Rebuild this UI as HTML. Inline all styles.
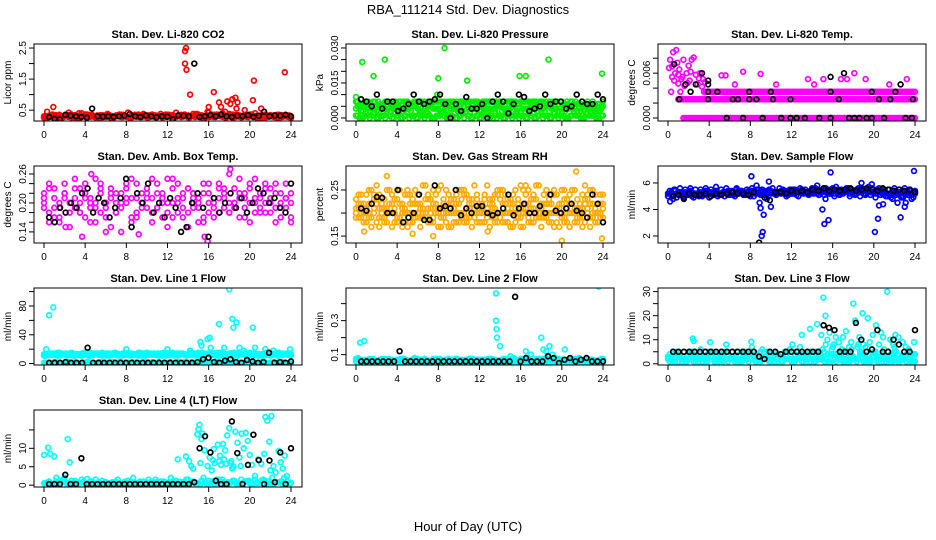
<!DOCTYPE html>
<html><head><meta charset="utf-8">
<style>
html,body{margin:0;padding:0;background:#fff;}
svg{display:block;font-family:"Liberation Sans",Arial,sans-serif;}
</style></head>
<body>
<svg id="chart" width="936" height="540" viewBox="0 0 936 540" xmlns="http://www.w3.org/2000/svg">
<text x="468" y="14" text-anchor="middle" font-size="13">RBA_111214  Std. Dev. Diagnostics</text>
<text x="468" y="531" text-anchor="middle" font-size="13">Hour of Day (UTC)</text>
</svg>
<script>
const xTicks = [0,4,8,12,16,20,24];
// Panel 1: CO2
const co2BaseA = [0.3,0.32,0.28,0.35,0.3,0.33,0.27,0.31,0.36,0.29,0.3,0.34,0.28,0.32,0.3,0.35,0.29,0.31,0.33,0.28,0.3,0.36,0.3,0.27,0.32,0.34,0.3,0.29,0.33,0.31,0.36,0.3,0.28,0.35,0.32,0.3,0.38,0.33,0.29,0.35,0.31,0.4,0.3,0.36,0.32,0.29,0.34,0.3,0.27];
const co2BaseB = [0.26,0.29,0.33,0.25,0.3,0.28,0.34,0.26,0.3,0.32,0.27,0.29,0.31,0.25,0.33,0.28,0.3,0.26,0.29,0.34,0.27,0.3,0.32,0.26,0.35,0.28,0.3,0.33,0.27,0.38,0.29,0.31,0.42,0.28,0.32,0.3,0.35,0.27,0.33,0.3,0.36,0.29,0.31,0.27,0.34,0.3,0.28,0.32,0.25];
const co2Out = [[0.3,0.45],[0.9,0.6],[13.7,2.4],[13.8,2.5],[13.7,2.0],[13.85,1.8],[14.2,1.0],[16.0,0.6],[16.5,1.08],[17,0.75],[17.2,0.6],[17.8,0.78],[18.1,0.7],[18.3,0.85],[18.6,0.9],[18.8,0.75],[18.7,0.55],[19.5,0.5],[20.3,0.82],[20.4,1.45],[21.1,0.55],[23.4,1.72],[2.4,0.42],[3.4,0.4],[15.9,0.45],[17.6,0.45]];
const co2Black = [0.28,0.22,0.2,0.35,0.32,0.3,0.28,0.26,0.55,0.3,0.29,0.3,0.28,0.3,0.32,0.38,0.3,0.28,0.33,0.3,0.27,0.3,0.29,0.2,0.33,0.32,0.3,2.0,0.28,0.3,0.34,0.3,0.36,0.3,0.28,0.32,0.3,0.34,0.28,0.32,0.45,0.3,0.33,0.32,0.35,0.3];
// Panel 2: Pressure
const prA = [0.001,0.0,0.002,0.001,0.0,0.001,0.002,0.0,0.001,0.0,0.002,0.001,0.0,0.001,0.002,0.0,0.001,0.001,0.0,0.002,0.001,0.0,0.001,0.002,0.0,0.001,0.0,0.002,0.001,0.0,0.001,0.002,0.001,0.0,0.001,0.0,0.002,0.001,0.0,0.001,0.002,0.0,0.001,0.001,0.0,0.002,0.001,0.0,0.001];
const prB = [0.004,0.003,0.005,0.004,0.003,0.004,0.003,0.004,0.005,0.003,0.004,0.005,0.004,0.003,0.005,0.004,0.004,0.003,0.005,0.004,0.003,0.005,0.004,0.004,0.003,0.005,0.004,0.003,0.005,0.004,0.004,0.005,0.003,0.004,0.005,0.004,0.003,0.005,0.004,0.004,0.003,0.005,0.004,0.003,0.005,0.004,0.004,0.003,0.005];
const prC = [0.007,0.006,0.006,0.005,0.005,0.005,0.006,0.005,0.006,0.006,0.007,0.006,0.007,0.006,0.007,0.007,0.007,0.006,0.007,0.007,0.006,0.007,0.007,0.007,0.006,0.007,0.007,0.007,0.007,0.006,0.007,0.007,0.007,0.007,0.006,0.007,0.007,0.007,0.006,0.007,0.007,0.007,0.007,0.006,0.007,0.007,0.007,0.006,0.007];
const prOut = [[0,0.009],[0.1,0.007],[0.6,0.024],[1.7,0.018],[2.8,0.025],[8.6,0.030],[8.0,0.017],[10.8,0.016],[15.9,0.018],[16.5,0.018],[18.7,0.025],[23.9,0.019],[7.9,0.01]];
const prBlack = [0.008,0.007,0.005,0.01,0.004,0.007,0.007,0.003,0.004,0.006,0.01,0.007,0.006,0.007,0.008,0.01,0.006,0.0,0.006,0.003,0.009,0.004,0.004,0.006,0.0,0.007,0.01,0.007,0.002,0.006,0.01,0.009,0.003,0.004,0.005,0.01,0.006,0.007,0.007,0.004,0.005,0.01,0.007,0.006,0.006,0.01,0.008];
// Panel 3: Temp
const tpLow = [0,0,0,0,0,0,0,0,0,0,0,0,0,0,0,0,0,0,0,0,0,0,0,0,0,0,0,0,0,0,0,0,0,0,0,0,0,0,0,0,0,0,0,0,0];
const tpMid = [0.0025,0.0025,0.0025,0.0025,0.0025,0.0025,0.0025,0.0025,0.0025,0.0025,0.0025,0.0025,0.0025,0.0025,0.0025,0.0025,0.0025,0.0025,0.0025,0.0025,0.0025,0.0025,0.0025,0.0025,0.0025,0.0025,0.0025,0.0025,0.0025,0.0025,0.0025,0.0025,0.0025,0.0025,0.0025,0.0025,0.0025,0.0025,0.0025,0.0025,0.0025,0.0025,0.0025,0.0025,0.0025,0.0025,0.0025,0.0025];
const tpHigh = [0.0035,0.0035,0.0035,0.0035,0.0035,0.0035,0.0035,0.0035,0.0035,0.0035,0.0035,0.0035,0.0035,0.0035,0.0035,0.0035,0.0035,0.0035,0.0035,0.0035,0.0035,0.0035,0.0035,0.0035,0.0035,0.0035,0.0035,0.0035,0.0035,0.0035,0.0035,0.0035,0.0035,0.0035,0.0035,0.0035,0.0035,0.0035,0.0035,0.0035,0.0035];
const tpOut = [[0.1,0.0067],[0.2,0.0078],[0.4,0.0055],[0.5,0.0088],[0.7,0.006],[0.8,0.0091],[0.9,0.0074],[1.0,0.0046],[1.1,0.0065],[1.3,0.0052],[1.5,0.0078],[1.6,0.0043],[1.8,0.006],[2.0,0.007],[2.1,0.005],[2.3,0.0078],[2.5,0.0081],[2.7,0.0058],[2.9,0.0045],[3.1,0.006],[3.4,0.0052],[3.6,0.0048],[0.3,0.0035],[1.2,0.0035],[5.2,0.0057],[5.6,0.0057],[6.5,0.0045],[7.3,0.0062],[9.0,0.0059],[10.5,0.0045],[13.6,0.0052],[14.2,0.0045],[15.1,0.0052],[17.4,0.0052],[18.1,0.006],[19.2,0.0052],[23.2,0.0052],[21.5,0.0045],[16.8,0.0052],[0.6,0.005],[1.4,0.0055],[2.2,0.0062],[3.0,0.0053],[3.3,0.0042],[1.9,0.0047],[1.0,0.0058],[0.4,0.0069]];
const tpBlack = [[0.6,0.0072],[1.1,0.0025],[1.7,0.0045],[2.2,0.0035],[2.7,0.0045],[3.3,0.006],[3.9,0.0045],[3.9,0.005],[3.9,0.0035],[3.9,0.0025],[4.8,0.0035],[5.7,0.0],[6.3,0.0025],[6.8,0.0025],[7.3,0.0],[7.9,0.0035],[7.9,0.0025],[8.6,0.0025],[9.2,0.0],[10.2,0.0025],[10.0,0.0035],[11.0,0.0],[11.9,0.0025],[11.9,0.0],[12.5,0.0],[13.3,0.0],[14.7,0.0],[15.8,0.0055],[15.8,0.0035],[15.8,0.0],[16.6,0.0025],[17.1,0.006],[17.6,0.0],[18.1,0.0],[18.6,0.0],[19.3,0.0],[19.8,0.0035],[19.8,0.0],[20.5,0.0025],[21.0,0.0],[21.6,0.0025],[22.1,0.0035],[22.6,0.0045],[23.1,0.0],[23.7,0.0],[23.8,0.0025]];
// Panel 4: Amb box temp
const amA = [0.22,0.18,0.21,0.16,0.24,0.2,0.19,0.23,0.17,0.21,0.25,0.18,0.2,0.15,0.22,0.19,0.24,0.17,0.21,0.2,0.23,0.16,0.19,0.22,0.18,0.25,0.2,0.17,0.23,0.19,0.21,0.16,0.24,0.2,0.18,0.22,0.26,0.19,0.21,0.17,0.23,0.2,0.18,0.24,0.21,0.16,0.22,0.19,0.2];
const amB = [0.19,0.23,0.17,0.2,0.22,0.15,0.21,0.18,0.24,0.2,0.19,0.22,0.17,0.23,0.2,0.14,0.21,0.25,0.18,0.22,0.19,0.21,0.24,0.17,0.2,0.23,0.18,0.21,0.15,0.22,0.19,0.24,0.2,0.17,0.23,0.21,0.18,0.2,0.25,0.22,0.16,0.21,0.19,0.23,0.18,0.22,0.2,0.24,0.17];
const amC = [0.2,0.16,0.23,0.19,0.21,0.18,0.25,0.2,0.22,0.16,0.2,0.23,0.19,0.21,0.18,0.22,0.2,0.16,0.24,0.19,0.21,0.18,0.22,0.2,0.25,0.17,0.21,0.19,0.23,0.2,0.16,0.22,0.18,0.21,0.24,0.19,0.2,0.23,0.17,0.21,0.2,0.25,0.22,0.18,0.2,0.24,0.19,0.21,0.16];
const amD = [0.21,0.24,0.19,0.17,0.22,0.2,0.23,0.18,0.21,0.19,0.16,0.24,0.2,0.22,0.18,0.2,0.23,0.21,0.17,0.2,0.22,0.25,0.19,0.21,0.15,0.2,0.24,0.22,0.18,0.21,0.2,0.17,0.22,0.19,0.21,0.23,0.18,0.2,0.22,0.19,0.24,0.18,0.21,0.2,0.23,0.19,0.17,0.21,0.22];
const amOut = [[3.7,0.13],[4.6,0.26],[9.2,0.135],[15.6,0.13],[18.1,0.27],[15.9,0.12],[2.1,0.15],[6.0,0.14]];
const amBlack = [0.17,0.16,0.19,0.18,0.2,0.19,0.22,0.23,0.18,0.21,0.2,0.17,0.19,0.21,0.25,0.15,0.22,0.2,0.24,0.18,0.2,0.17,0.21,0.19,0.14,0.15,0.2,0.22,0.19,0.13,0.21,0.18,0.2,0.22,0.19,0.21,0.18,0.2,0.23,0.22,0.2,0.21,0.19,0.18,0.24];
// Panel 5: RH
const rhA = [0.2,0.24,0.18,0.22,0.26,0.19,0.21,0.17,0.23,0.2,0.25,0.18,0.22,0.2,0.24,0.19,0.21,0.23,0.17,0.2,0.22,0.25,0.19,0.21,0.18,0.23,0.2,0.24,0.19,0.22,0.17,0.21,0.26,0.2,0.18,0.23,0.21,0.19,0.24,0.2,0.22,0.18,0.25,0.21,0.19,0.23,0.2,0.22,0.24];
const rhB = [0.23,0.19,0.21,0.25,0.18,0.22,0.2,0.24,0.19,0.21,0.17,0.23,0.2,0.26,0.18,0.22,0.2,0.19,0.24,0.21,0.18,0.2,0.23,0.26,0.2,0.18,0.22,0.19,0.25,0.2,0.23,0.18,0.21,0.24,0.2,0.19,0.22,0.25,0.18,0.21,0.19,0.23,0.2,0.18,0.24,0.21,0.19,0.2,0.22];
const rhC = [0.21,0.2,0.24,0.19,0.22,0.2,0.18,0.22,0.25,0.17,0.2,0.22,0.24,0.19,0.21,0.25,0.17,0.22,0.2,0.23,0.25,0.18,0.21,0.2,0.22,0.24,0.17,0.21,0.23,0.18,0.2,0.25,0.19,0.22,0.21,0.26,0.17,0.2,0.22,0.24,0.19,0.21,0.2,0.23,0.17,0.2,0.25,0.18,0.21];
const rhD = [0.19,0.22,0.2,0.17,0.23,0.21,0.25,0.2,0.18,0.22,0.24,0.2,0.19,0.21,0.23,0.18,0.25,0.2,0.22,0.18,0.2,0.24,0.22,0.19,0.21,0.2,0.23,0.18,0.2,0.24,0.22,0.2,0.17,0.21,0.23,0.2,0.19,0.22,0.2,0.18,0.25,0.2,0.22,0.19,0.21,0.24,0.22,0.2,0.19];
const rhOut = [[0.8,0.16],[3.0,0.28],[5.5,0.155],[7.5,0.15],[12.8,0.16],[20,0.14],[21.4,0.29],[23.9,0.145],[16.5,0.26]];
const rhBlack = [0.21,0.205,0.22,0.235,0.233,0.2,0.2,0.25,0.18,0.19,0.2,0.24,0.185,0.185,0.26,0.21,0.215,0.21,0.25,0.195,0.21,0.2,0.215,0.215,0.2,0.195,0.2,0.21,0.24,0.195,0.21,0.22,0.2,0.2,0.215,0.2,0.24,0.205,0.2,0.21,0.22,0.205,0.2,0.19,0.24,0.22,0.18];
// Panel 6: Sample flow
const sfA = [5.0,5.1,5.2,4.9,5.1,5.2,5.0,5.1,5.2,5.1,5.2,5.0,5.1,5.2,5.3,5.1,5.2,5.2,5.1,5.3,5.2,5.3,5.2,5.3,5.2,5.4,5.3,5.2,5.3,5.4,5.3,5.5,5.4,5.3,5.4,5.5,5.4,5.3,5.5,5.4,5.5,5.4,5.3,5.5,5.4,5.5,5.3,5.4,5.4];
const sfB = [5.2,4.8,5.3,5.0,5.3,4.9,5.2,5.3,4.9,5.3,5.1,5.3,5.2,5.0,5.4,5.2,5.0,5.3,5.4,5.1,5.4,5.1,5.4,5.0,5.5,5.1,5.5,5.3,5.6,5.2,5.5,5.2,5.6,5.5,5.2,5.6,5.3,5.6,5.2,5.7,5.3,5.6,5.5,5.2,5.6,5.3,5.6,5.5,5.2];
const sfOut = [[0.2,4.6],[0.6,5.5],[8.1,6.5],[8.6,5.8],[8.9,4.5],[9.0,4.1],[9.3,3.6],[9.2,2.3],[9.1,2.0],[9.6,4.8],[9.8,6.1],[10,4.2],[15.0,4.0],[15.2,2.9],[15.6,3.2],[15.8,6.8],[19.8,5.9],[20.1,2.3],[20.4,3.3],[20.5,4.3],[20.9,4.4],[22.3,4.5],[22.6,3.4],[23,4.2],[23.1,4.5],[23.9,6.9],[15.3,4.8],[14.5,5.8],[18.8,6.0]];
const sfBlack = [5.0,5.1,4.8,5.2,5.1,5.1,5.2,5.0,5.2,5.1,5.2,5.3,5.2,5.2,5.1,5.3,1.5,4.9,4.7,5.3,5.3,5.2,5.4,5.3,5.4,5.3,5.5,5.4,5.6,5.4,5.5,5.4,5.5,5.6,5.4,5.5,5.6,5.5,5.4,5.6,5.5,5.4,5.5,5.4,5.5,5.3];
// Panel 7: Line 1 flow
const l1Band = [13,14,12,15,13,14,13,12,14,15,13,12,14,13,15,13,14,12,13,14,15,13,12,14,13,15,14,13,12,14,15,13,14,13,12,14,13,15,14,13,12,14,13,15,14,13,12,14,13];
const l1Band2 = [11,12,14,11,13,12,11,13,12,11,14,13,11,12,13,11,12,14,12,11,13,12,14,11,12,13,11,14,12,13,11,12,13,14,11,12,14,11,13,12,15,11,13,12,11,14,12,13,11];
const l1Zero = [1,0,2,1,0,1,2,0,1,1,0,2,1,0,1,2,1,0,1,1,0,2,1,0,1,1,2,0,1,1,0,2,1,0,1,2,1,0,1,0,2,1,0,1,1,0,2,1,0];
const l1Out = [[0.2,20],[0.5,67],[0.9,78],[8,20],[12,20],[15.2,30],[15.3,25],[15.9,34],[16.2,22],[17,55],[17.5,22],[18,103],[18.3,62],[18.4,50],[18.7,57],[19,22],[20.3,50],[20.5,22],[21.5,20],[23.9,20],[14.2,18],[16.1,36],[19.4,18],[22.3,18]];
const l1Black = [1,1,1,2,1,1,1,22,1,1,1,1,1,1,1,1,1,1,1,1,1,1,1,1,1,1,1,2,6,8,2,1,4,6,2,1,5,3,1,2,15,1,2,1,3];
// Panel 8: Line 2 flow
const l2Band = [0.06,0.07,0.05,0.06,0.065,0.055,0.06,0.07,0.05,0.06,0.065,0.06,0.055,0.07,0.06,0.05,0.06,0.065,0.06,0.055,0.07,0.06,0.05,0.065,0.06,0.07,0.055,0.06,0.065,0.05,0.06,0.07,0.06,0.055,0.065,0.06,0.05,0.07,0.06,0.065,0.055,0.06,0.07,0.05,0.06,0.065,0.06,0.055,0.07];
const l2Band2 = [0.075,0.05,0.065,0.07,0.05,0.075,0.055,0.05,0.07,0.075,0.05,0.07,0.075,0.05,0.055,0.075,0.07,0.05,0.075,0.07,0.05,0.055,0.075,0.05,0.07,0.05,0.075,0.07,0.05,0.075,0.07,0.05,0.075,0.07,0.05,0.075,0.07,0.08,0.05,0.075,0.07,0.05,0.075,0.07,0.05,0.075,0.07,0.05,0.075];
const l2Out = [[0.4,0.17],[0.2,0.08],[0.8,0.18],[13.6,0.46],[13.6,0.3],[13.65,0.25],[13.7,0.2],[14,0.15],[16.5,0.12],[17,0.1],[18,0.2],[18.2,0.13],[18.5,0.12],[18.8,0.15],[20.3,0.13],[21.7,0.08],[23.6,0.5],[15,0.09],[19.1,0.1]];
const l2Black = [0.06,0.06,0.06,0.06,0.06,0.06,0.06,0.12,0.06,0.06,0.06,0.06,0.06,0.06,0.06,0.06,0.06,0.06,0.06,0.06,0.06,0.06,0.06,0.06,0.06,0.06,0.06,0.06,0.44,0.06,0.08,0.06,0.06,0.06,0.09,0.08,0.05,0.07,0.08,0.06,0.07,0.08,0.06,0.06,0.06];
// Panel 9: Line 3 flow
const l3Band = [3,1,4,2,5,1,3,2,4,1,3,5,2,1,4,3,2,1,5,3,2,4,1,3,2,5,1,4,3,2,6,1,4,2,5,1,3,2,4,1,5,2,3,1,4,2,3,1,4];
const l3Band2 = [2,4,1,3,2,4,1,3,5,2,1,4,2,3,1,5,2,4,1,3,1,2,4,3,1,2,4,1,3,5,2,4,7,3,1,5,2,8,1,4,3,1,6,2,5,1,3,2,1];
const l3Out = [[2.4,10.5],[2.5,9.5],[4.1,9],[8.1,9.2],[12.1,8],[13,12],[13.8,14.5],[14.5,16.5],[15.1,27.5],[15.3,20],[15.5,10],[15.7,13],[16.1,8],[16.3,11],[16.6,9],[17,11],[17.3,13.5],[17.6,7],[18,25],[18.2,18],[18.6,11],[18.9,21],[19.4,19],[19.6,9],[19.9,12],[20.2,16],[20.5,8],[20.9,11],[21.3,30],[21.6,10],[22,7],[22.4,11],[22.8,9],[23.1,7],[23.9,9],[14.9,12],[16.9,6],[19.2,7],[21.9,8],[15.9,6],[17.8,9],[18.4,7],[20.7,13],[22.1,12],[23.4,6],[16.2,14],[19.0,8]];
const l3Black = [5,5,5,5,5,5,5,5,5,5,5,5,5,5,5,5,3,2,5,5,4,5,5,5,5,5,5,5,16,15,14,5,5,5,17,10,5,6,14,5,5,10,8,5,5,14];
// Panel 10: Line 4 flow
const l4Base = [0.5,1,0.3,0.8,2,0.4,1.2,0.6,0.3,1,1.5,0.5,0.8,0.3,1,0.4,0.6,0.8,0.3,0.5,0.7,0.4,0.9,0.5,0.6,1,0.4,0.8,1.5,1,0.6,2,1.2,0.4,1.5,0.8,0.5,1.2,0.4,1,0.6,1.5,0.8,1.2,0.5,0.7,1,0.4,0.6];
const l4Out = [[0,8.2],[0.4,10.2],[0.6,8.5],[1,7.8],[2.3,12.5],[2.5,6.2],[1.2,2],[4.2,1.7],[13,7],[13.8,7.8],[14.1,6.5],[14.3,5.2],[14.5,4.5],[14.9,13.8],[15,15.2],[15.1,16.4],[15.3,12.5],[15.4,14],[15.2,6],[15.6,9.5],[15.9,5.2],[16.1,7.5],[16.3,4],[16.5,9.8],[16.6,6],[16.9,11],[17.1,8],[17.2,5.5],[17.4,11.2],[17.6,9.5],[17.8,13.5],[18.0,15.5],[18.2,6.5],[18.4,5],[18.6,14.5],[18.8,11.5],[19.0,7.5],[19.2,14],[19.4,10],[19.6,14.2],[19.8,12],[20.2,5.5],[20.5,2.5],[20.8,7],[21.1,5.8],[21.4,8.5],[21.5,18.5],[21.7,17.5],[21.9,11.8],[22.1,18.8],[22.3,5.2],[22.5,3.5],[22.8,9.3],[23.0,6.2],[23.2,4.5],[23.4,8],[23.6,2.5],[16.8,1.5],[19.9,1.2],[21.3,1.5],[17.0,6.5],[17.5,7],[18.1,6],[18.3,4.5],[17.7,5.8],[16.4,6.8],[19.1,5.2],[20.0,8.2],[22.0,4]];
const l4Black = [0.3,0.3,0.3,2.8,0.3,0.3,7.3,0.3,0.3,0.3,0.3,0.3,0.3,0.3,0.3,0.3,0.3,0.3,0.3,0.3,0.3,0.3,0.3,0.3,0.3,0.3,0.3,0.8,10,13.3,8.9,1.2,0.3,0.3,17.3,8.7,0.3,5.5,13.7,6.8,0.3,6.7,0.8,8.9,0.3,10];

const NS = "http://www.w3.org/2000/svg";
const svg = document.getElementById('chart');
function mk(tag, attrs, parent){ const e=document.createElementNS(NS,tag); for(const k in attrs) e.setAttribute(k,attrs[k]); (parent||svg).appendChild(e); return e; }

const panels = [
 {title:"Stan. Dev. Li-820 CO2", yl:"Licor ppm", col:0,row:0, ymin:0.15,ymax:2.63, ticks:[0.5,1,1.5,2,2.5], labels:[0.5,1.5,2.5], fmt:1, color:"#ff0000", dense:3,
  base:[co2BaseA,co2BaseB], out:co2Out, black:co2Black},
 {title:"Stan. Dev. Li-820 Pressure", yl:"kPa", col:1,row:0, ymin:-0.0013,ymax:0.0317, ticks:[0,0.005,0.01,0.015,0.02,0.025,0.03], labels:[0,0.015,0.03], fmt:3, color:"#00ee00", dense:3,
  base:[prA,prB,prC], out:prOut, black:prBlack},
 {title:"Stan. Dev. Li-820 Temp.", yl:"degrees C", col:2,row:0, ymin:-0.0004,ymax:0.0099, ticks:[0,0.002,0.004,0.006,0.008], labels:[0,0.006], fmt:3, color:"#ff00ff", dense:3,
  base:[], spans:[[tpLow,1.5,24],[tpMid,1.0,24],[tpHigh,3.5,24]], out:tpOut, blackPairs:tpBlack},
 {title:"Stan. Dev. Amb. Box Temp.", yl:"degrees C", col:0,row:1, ymin:0.117,ymax:0.2765, ticks:[0.14,0.16,0.18,0.2,0.22,0.24,0.26], labels:[0.14,0.2,0.26], fmt:2, color:"#ff00ff", dense:1,
  base:[amA,amB,amC,amD], out:amOut, black:amBlack},
 {title:"Stan. Dev. Gas Stream RH", yl:"percent", col:1,row:1, ymin:0.135,ymax:0.302, ticks:[0.15,0.2,0.25], labels:[0.15,0.25], fmt:2, color:"#ffaa00", dense:2,
  base:[rhA,rhB,rhC,rhD], out:rhOut, black:rhBlack},
 {title:"Stan. Dev. Sample Flow", yl:"ml/min", col:2,row:1, ymin:1.47,ymax:7.28, ticks:[2,4,6], labels:[2,4,6], fmt:0, color:"#0000ff", dense:3,
  base:[sfA,sfB], out:sfOut, black:sfBlack},
 {title:"Stan. Dev. Line 1 Flow", yl:"ml/min", col:0,row:2, ymin:-2,ymax:105, ticks:[0,20,40,60,80,100], labels:[0,40,80], fmt:0, color:"#00ffff", dense:3,
  base:[l1Band,l1Band2,l1Zero], out:l1Out, black:l1Black},
 {title:"Stan. Dev. Line 2 Flow", yl:"ml/min", col:1,row:2, ymin:0.039,ymax:0.492, ticks:[0.1,0.2,0.3,0.4], labels:[0.1,0.3], fmt:1, color:"#00ffff", dense:3,
  base:[l2Band,l2Band2], out:l2Out, black:l2Black},
 {title:"Stan. Dev. Line 3 Flow", yl:"ml/min", col:2,row:2, ymin:-0.5,ymax:31.5, ticks:[0,5,10,15,20,25,30], labels:[0,10,20,30], fmt:0, color:"#00ffff", dense:3,
  base:[l3Band,l3Band2], out:l3Out, black:l3Black},
 {title:"Stan. Dev. Line 4 (LT) Flow", yl:"ml/min", col:0,row:3, ymin:-0.5,ymax:20.4, ticks:[0,5,10,15], labels:[0,5,10], fmt:0, color:"#00ffff", dense:3,
  base:[l4Base], out:l4Out, black:l4Black}
];

function pt(g, x, y, color){
  const c = mk('circle',{cx:x.toFixed(1),cy:y.toFixed(1),r:2.4,fill:'none',stroke:color,'stroke-width':1.7},g);
  
  
}

panels.forEach((p,i)=>{
  const L = 34 + p.col*312, R = L + 268, T = 44 + p.row*122, B = T + 77;
  const xs = h => (L+10) + h/24*247;
  const ys = v => B - (v - p.ymin)/(p.ymax - p.ymin)*(B-T);
  const g = mk('g',{});
  
  
  const clip = mk('clipPath',{id:'cp'+i},g);
  mk('rect',{x:L,y:T,width:R-L,height:B-T},clip);
  const pts = mk('g',{'clip-path':'url(#cp'+i+')'},g);
  
  
  (p.base||[]).forEach(arr=>{
    const n = arr.length, step = 24/(n-1);
    const rev = arr.slice().reverse();
    const rot = arr.slice(7).concat(arr.slice(0,7));
    const variants = [[arr,0],[rev,step/p.dense],[rot,2*step/p.dense]].slice(0,p.dense);
    variants.forEach(([a,off])=>{
      a.forEach((v,k)=>{ const x = k*step+off; if(x<=24.1) pt(pts, xs(x), ys(v), p.color); });
    });
  });
  (p.spans||[]).forEach(([arr,a,b])=>{
    const step = (b-a)/(arr.length-1);
    [0,step/3,2*step/3].forEach(off=>{
      arr.forEach((v,k)=>{ const x = a + k*step + off; if(x<=24.1) pt(pts, xs(x), ys(v), p.color); });
    });
  });
  p.out.forEach(([x,v])=>pt(pts, xs(x), ys(v), p.color));
  if(p.black) p.black.forEach((v,k)=>pt(pts, xs(0.5 + k*23.5/(p.black.length-1)), ys(v), '#000'));
  if(p.blackPairs) p.blackPairs.forEach(([x,v])=>pt(pts, xs(x), ys(v), '#000'));
  const box = mk('rect',{x:L,y:T,width:R-L,height:B-T,fill:'none',stroke:'#000','stroke-width':1},g);
  
  
  const t = mk('text',{x:(L+R)/2,y:T-6,'text-anchor':'middle','font-size':11,'font-weight':'bold'},g);
  t.textContent = p.title;
  
  
  const yl = mk('text',{transform:`translate(${L-23},${(T+B)/2}) rotate(-90)`,'text-anchor':'middle','font-size':10},g);
  yl.textContent = p.yl;
  
  
  xTicks.forEach(h=>{
    mk('line',{x1:xs(h),x2:xs(h),y1:B,y2:B+5,stroke:'#000'},g);
    const tx = mk('text',{x:xs(h),y:B+17,'text-anchor':'middle','font-size':10},g);
    tx.textContent = h;
    
    
  });
  p.ticks.forEach(v=>{ mk('line',{x1:L-5,x2:L,y1:ys(v),y2:ys(v),stroke:'#000'},g); });
  p.labels.forEach(v=>{
    const ty = mk('text',{transform:`translate(${L-8},${ys(v)}) rotate(-90)`,'text-anchor':'middle','font-size':10},g);
    ty.textContent = v.toFixed(p.fmt);
    
    
  });
});
</script>
</body></html>
